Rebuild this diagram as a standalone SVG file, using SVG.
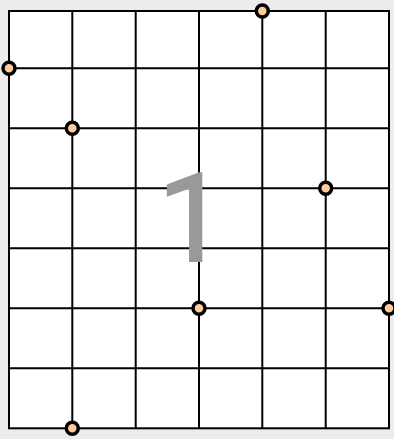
<svg xmlns="http://www.w3.org/2000/svg" width="394" height="439" viewBox="0 0 394 439">
<style>
.g{stroke:#000;stroke-width:2;fill:none}
.frame{stroke:#000;stroke-width:2;fill:#fff}
.pt{fill:#ffcc99;stroke:#000;stroke-width:3.5}
.lbl{font-family:Roboto,"Noto Sans",sans-serif;font-size:122px;fill:#999999;stroke:#999999;stroke-width:2.2;text-anchor:middle}
</style>
<rect width="394" height="439" fill="#ececec"/>
<g id="grid">
<rect x="9" y="11" width="380" height="417.3" class="frame"/>
<path class="g" d="M72.3 11V428.3M135.7 11V428.3M199 11V428.3M262.3 11V428.3M325.7 11V428.3M9 68.3H389M9 128.3H389M9 188.3H389M9 248.3H389M9 308.3H389M9 368.3H389"/>
</g>
<text class="lbl" x="192" y="261">1</text>
<g id="points">
<circle class="pt" cx="9" cy="68.3" r="6"/>
<circle class="pt" cx="262.3" cy="11" r="6"/>
<circle class="pt" cx="72.3" cy="128.3" r="6"/>
<circle class="pt" cx="325.7" cy="188.3" r="6"/>
<circle class="pt" cx="199" cy="308.3" r="6"/>
<circle class="pt" cx="389" cy="308.3" r="6"/>
<circle class="pt" cx="72.3" cy="428.3" r="6"/>
</g>
</svg>
